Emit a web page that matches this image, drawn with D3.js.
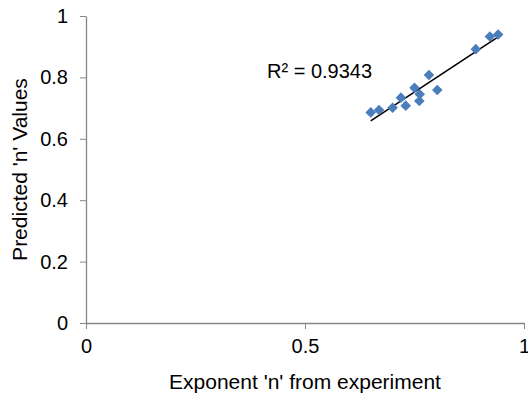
<!DOCTYPE html>
<html>
<head>
<meta charset="utf-8">
<script src="https://cdn.jsdelivr.net/npm/d3@7"></script>
<style>
	body { margin: 0; background: #fff; }
	svg { font-family: 'Liberation Sans', Arial, sans-serif; display: block; }
	.axis path, .axis line { stroke: #868686; }
	.axis text { font-size: 20px; fill: #000; font-family: 'Liberation Sans', Arial, sans-serif; }
</style>
</head>
<body>
<svg></svg>
<script>
const xVals = [0.650, 0.669, 0.700, 0.719, 0.730, 0.750, 0.762, 0.761, 0.783, 0.802, 0.890, 0.922, 0.941];
const yVals = [0.686, 0.694, 0.701, 0.734, 0.708, 0.766, 0.745, 0.723, 0.808, 0.759, 0.892, 0.933, 0.940];
const xTicks = [0, 0.5, 1];
const yTicks = [0, 0.2, 0.4, 0.6, 0.8, 1];
const r2Label = 'R² = 0.9343';

const data = xVals.map((x, i) => ({ x: x, y: yVals[i] }));

const width = 528;
const height = 397;
const margin = { top: 16, right: 4, bottom: 74, left: 86 };
const innerWidth = width - margin.left - margin.right;
const innerHeight = height - margin.top - margin.bottom;

const svg = d3.select('svg')
	.attr('width', width)
	.attr('height', height);

const xScale = d3.scaleLinear().domain([0, 1]).range([0, innerWidth]);
const yScale = d3.scaleLinear().domain([0, 1]).range([innerHeight, 0]);

const g = svg.append('g')
	.attr('transform', `translate(${margin.left},${margin.top})`);

const xAxis = d3.axisBottom(xScale)
	.tickValues(xTicks)
	.tickFormat(d3.format('~g'))
	.tickSize(6)
	.tickSizeOuter(0)
	.tickPadding(10);

const yAxis = d3.axisLeft(yScale)
	.tickValues(yTicks)
	.tickFormat(d3.format('~g'))
	.tickSize(6)
	.tickSizeOuter(0)
	.tickPadding(12);

const xAxisGroup = g.append('g')
	.attr('class', 'axis')
	.attr('transform', `translate(0,${innerHeight})`)
	.call(xAxis);

const yAxisGroup = g.append('g')
	.attr('class', 'axis')
	.call(yAxis);

xAxisGroup.select('.domain').attr('stroke-width', 1.3);
yAxisGroup.select('.domain').attr('stroke-width', 1.3);

svg.append('text')
	.attr('x', margin.left + innerWidth / 2)
	.attr('y', 389)
	.attr('text-anchor', 'middle')
	.attr('font-size', 21)
	.text("Exponent 'n' from experiment");

svg.append('text')
	.attr('transform', `translate(27,${margin.top + innerHeight / 2}) rotate(-90)`)
	.attr('text-anchor', 'middle')
	.attr('font-size', 21)
	.text("Predicted 'n' Values");

// linear trendline
const mx = d3.mean(data, d => d.x);
const my = d3.mean(data, d => d.y);
const slope = d3.sum(data, d => (d.x - mx) * (d.y - my)) / d3.sum(data, d => (d.x - mx) ** 2);
const intercept = my - slope * mx;
const [x0, x1] = d3.extent(data, d => d.x);

g.append('line')
	.attr('x1', xScale(x0))
	.attr('y1', yScale(intercept + slope * x0))
	.attr('x2', xScale(x1))
	.attr('y2', yScale(intercept + slope * x1))
	.attr('stroke', '#000')
	.attr('stroke-width', 1.6);

const diamond = d3.symbol().type(d3.symbolSquare).size(56);

g.selectAll('.pt')
	.data(data)
	.join('path')
	.attr('class', 'pt')
	.attr('d', diamond)
	.attr('transform', d => `translate(${xScale(d.x)},${yScale(d.y)}) rotate(45)`)
	.attr('fill', '#4a7ebb');

svg.append('text')
	.attr('x', 267)
	.attr('y', 78)
	.attr('font-size', 20)
	.text(r2Label);
</script>
</body>
</html>
